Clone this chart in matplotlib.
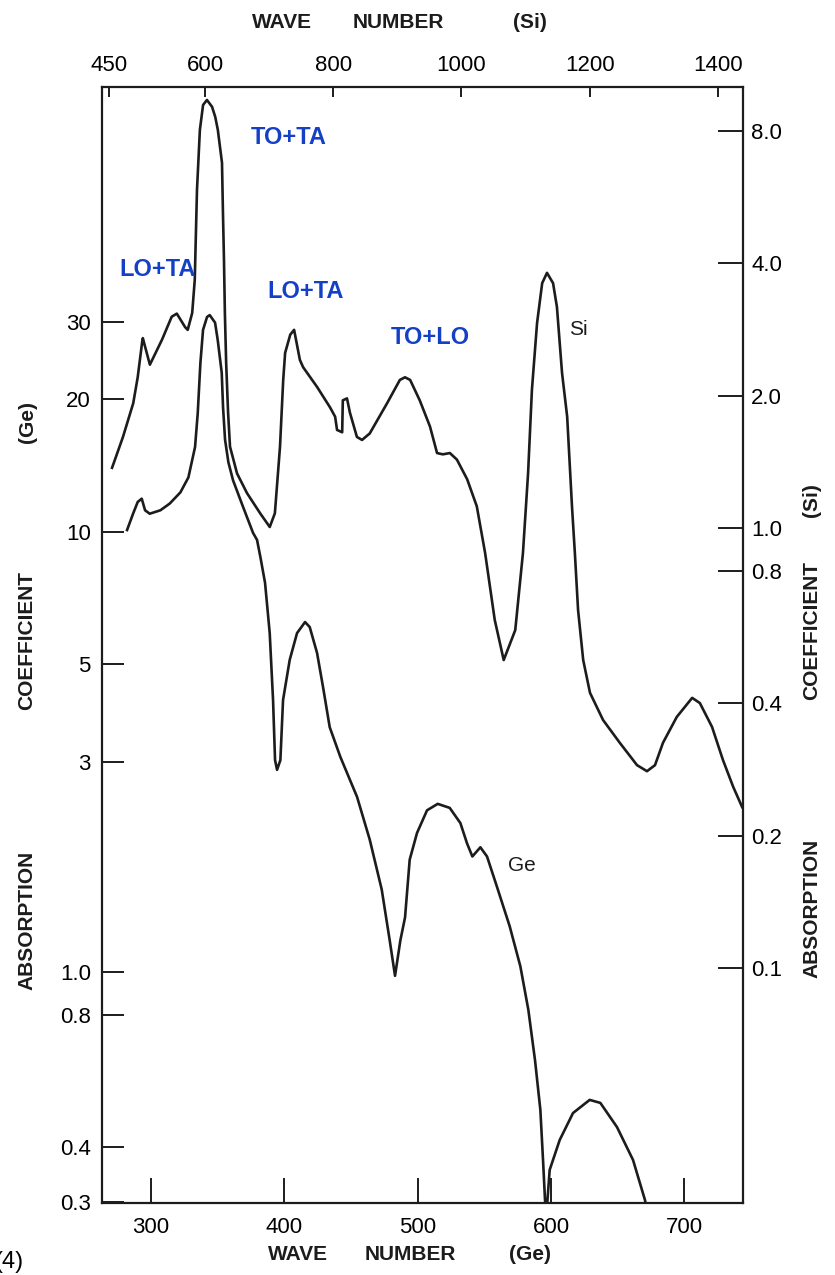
# Absorption coefficient of Ge and Si versus wave number (scanned-figure look)
import matplotlib
matplotlib.use("Agg")
import matplotlib.pyplot as plt
from matplotlib.ticker import FixedLocator, FixedFormatter, NullLocator

plt.rcParams['font.family'] = ['Liberation Sans Narrow', 'Liberation Sans', 'DejaVu Sans']

# Ge curve: wave number (cm-1, bottom axis) and absorption coefficient (left axis)
ge_wn = [282, 286.5, 290, 293, 295.5, 299, 307, 314, 322, 328, 333, 335, 337, 339, 342, 344,
         348, 350, 353, 354, 355.5, 358, 361.5, 369, 376.5, 379.5, 382, 385.5, 389, 391.5, 393,
         394.5, 397, 399, 404, 409.5, 415.5, 419, 424.5, 429, 434, 442, 454.5, 464, 473, 479,
         483, 487, 490.5, 494, 499.5, 507, 515, 524, 532, 537, 541, 547, 552, 559.5, 569, 577,
         583, 588, 592, 594, 595.5, 596.5, 599, 606.5, 616.5, 629, 637, 649.5, 661.5, 670.5, 672]
ge_abs = [10.1, 11.0, 11.7, 11.9, 11.2, 11.0, 11.2, 11.6, 12.3, 13.3, 15.6, 18.6, 24.2, 28.8,
          30.8, 31.1, 29.9, 27.3, 23.0, 19.2, 16.2, 14.4, 13.1, 11.4, 9.95, 9.59, 8.77, 7.66,
          5.89, 4.15, 3.03, 2.88, 3.03, 4.15, 5.12, 5.89, 6.24, 6.08, 5.31, 4.44, 3.60, 3.08,
          2.50, 2.0, 1.54, 1.18, 0.98, 1.18, 1.33, 1.80, 2.07, 2.33, 2.41, 2.36, 2.18, 1.96,
          1.83, 1.92, 1.83, 1.56, 1.27, 1.03, 0.82, 0.63, 0.486, 0.374, 0.303, 0.28, 0.355,
          0.415, 0.478, 0.512, 0.504, 0.444, 0.374, 0.303, 0.287]

# Si curve: wave number (cm-1, top axis) and absorption coefficient (right axis)
si_wn = [455, 472, 488, 495, 502, 503, 514, 533, 548, 556, 569, 573, 580, 584, 587.5, 592, 597,
         603, 611, 616, 620, 626.5, 628, 629.6, 631, 633, 636, 639, 650, 665.5, 686, 701, 709,
         717, 722, 725, 733, 739, 748, 753, 775, 795, 803, 806, 814, 815, 821.5, 826, 837, 845,
         857, 884, 904, 912, 920, 935, 951, 962, 971, 982, 993, 1009, 1024, 1037, 1052, 1066,
         1084, 1096, 1104, 1110, 1118, 1126, 1133.5, 1143, 1149, 1157, 1165, 1172.5, 1177, 1182,
         1190, 1200.6, 1221, 1247, 1274, 1289.5, 1302, 1314.5, 1336, 1360, 1372, 1391, 1408,
         1424, 1438]
si_abs = [1.37, 1.61, 1.92, 2.20, 2.65, 2.70, 2.35, 2.68, 3.02, 3.07, 2.86, 2.82, 3.08, 3.66,
          5.87, 8.03, 9.15, 9.39, 9.06, 8.59, 8.03, 6.76, 5.20, 4.06, 3.08, 2.37, 1.83, 1.53,
          1.33, 1.20, 1.08, 1.005, 1.08, 1.53, 2.17, 2.50, 2.75, 2.82, 2.41, 2.32, 2.09, 1.88,
          1.79, 1.67, 1.65, 1.95, 1.97, 1.83, 1.61, 1.585, 1.64, 1.92, 2.17, 2.20, 2.17, 1.95,
          1.70, 1.48, 1.47, 1.48, 1.43, 1.29, 1.12, 0.877, 0.618, 0.501, 0.586, 0.877, 1.33,
          2.06, 2.92, 3.60, 3.80, 3.60, 3.18, 2.25, 1.79, 1.12, 0.877, 0.651, 0.501, 0.422,
          0.366, 0.325, 0.289, 0.280, 0.289, 0.325, 0.372, 0.411, 0.400, 0.353, 0.297, 0.258,
          0.232]

# tick values and labels
ge_xticks = [300, 400, 500, 600, 700]
si_xticks = [450, 600, 800, 1000, 1200, 1400]
ge_yticks = [30, 20, 10, 5, 3, 1.0, 0.8, 0.4, 0.3]
ge_ylabels = ["30", "20", "10", "5", "3", "1.0", "0.8", "0.4", "0.3"]
si_yticks = [8.0, 4.0, 2.0, 1.0, 0.8, 0.4, 0.2, 0.1]
si_ylabels = ["8.0", "4.0", "2.0", "1.0", "0.8", "0.4", "0.2", "0.1"]

# phonon combination labels: (text, x px, y px)
bands = [("TO+TA", 289, 137), ("LO+TA", 158, 269), ("LO+TA", 306, 292), ("TO+LO", 430, 337)]

W, H = 835, 1275
def fx(px):
    return px / W
def fy(py):
    return 1 - py / H

ink = "#1c1c1c"
blue = "#1440c8"

fig = plt.figure(figsize=(W / 100, H / 100), dpi=100)
rect = [fx(102), fy(1203), fx(743) - fx(102), fy(87) - fy(1203)]

# Ge axes (bottom / left)
ax = fig.add_axes(rect)
ax.set_yscale("log")
ax.set_xlim(263.2, 744)
ax.set_ylim(0.2985, 102.6)
ax.plot(ge_wn, ge_abs, color=ink, lw=1.9, solid_joinstyle="round")
ax.xaxis.set_major_locator(FixedLocator(ge_xticks))
ax.yaxis.set_major_locator(FixedLocator(ge_yticks))
ax.yaxis.set_major_formatter(FixedFormatter(ge_ylabels))
ax.yaxis.set_minor_locator(NullLocator())
ax.tick_params(axis="x", direction="in", length=18, width=1.4, labelsize=16, pad=10, color=ink)
ax.tick_params(axis="y", direction="in", length=16, width=1.4, labelsize=16, pad=8, color=ink)
for s in ax.spines.values():
    s.set_linewidth(1.6)
    s.set_color(ink)

# Si axes (top / right)
ax_si = fig.add_axes(rect, frameon=False)
ax_si.set_yscale("log")
ax_si.set_xlim(439.3, 1439.3)
ax_si.set_ylim(0.02923, 10.05)
ax_si.plot(si_wn, si_abs, color=ink, lw=1.9, solid_joinstyle="round")
ax_si.xaxis.tick_top()
ax_si.yaxis.tick_right()
ax_si.xaxis.set_major_locator(FixedLocator(si_xticks))
ax_si.yaxis.set_major_locator(FixedLocator(si_yticks))
ax_si.yaxis.set_major_formatter(FixedFormatter(si_ylabels))
ax_si.yaxis.set_minor_locator(NullLocator())
ax_si.tick_params(axis="x", direction="in", length=7, width=1.4, labelsize=16, pad=8, color=ink)
ax_si.tick_params(axis="y", direction="in", length=18, width=1.4, labelsize=16, pad=6, color=ink)

# curve names
ax_si.text(1168, 2.83, "Si", fontsize=15, color=ink, ha="left", va="center")
ax.text(568, 1.75, "Ge", fontsize=15, color=ink, ha="left", va="center")

# band assignments
for txt, px, py in bands:
    fig.text(fx(px), fy(py), txt, color=blue, fontsize=17, fontweight="bold",
             family=["Liberation Sans", "DejaVu Sans"], ha="center", va="center")

# axis titles, written word by word like the original lettering
for word, px in [("WAVE", 282), ("NUMBER", 398), ("(Si)", 530)]:
    fig.text(fx(px), fy(22), word, fontsize=15, fontweight="bold", color=ink,
             ha="center", va="center")
for word, px in [("WAVE", 298), ("NUMBER", 410), ("(Ge)", 530)]:
    fig.text(fx(px), fy(1255), word, fontsize=15, fontweight="bold", color=ink,
             ha="center", va="center")
for word, py in [("(Ge)", 422), ("COEFFICIENT", 640), ("ABSORPTION", 920)]:
    fig.text(fx(27), fy(py), word, fontsize=15, fontweight="bold", color=ink, rotation=90,
             ha="center", va="center")
for word, py in [("(Si)", 500), ("COEFFICIENT", 630), ("ABSORPTION", 908)]:
    fig.text(fx(812), fy(py), word, fontsize=15, fontweight="bold", color=ink, rotation=90,
             ha="center", va="center")

fig.text(fx(-6), fy(1262), "(4)", fontsize=17, color="black", ha="left", va="center",
         family=["Liberation Sans", "DejaVu Sans"])

fig.savefig("out.png", dpi=100, facecolor="white")
